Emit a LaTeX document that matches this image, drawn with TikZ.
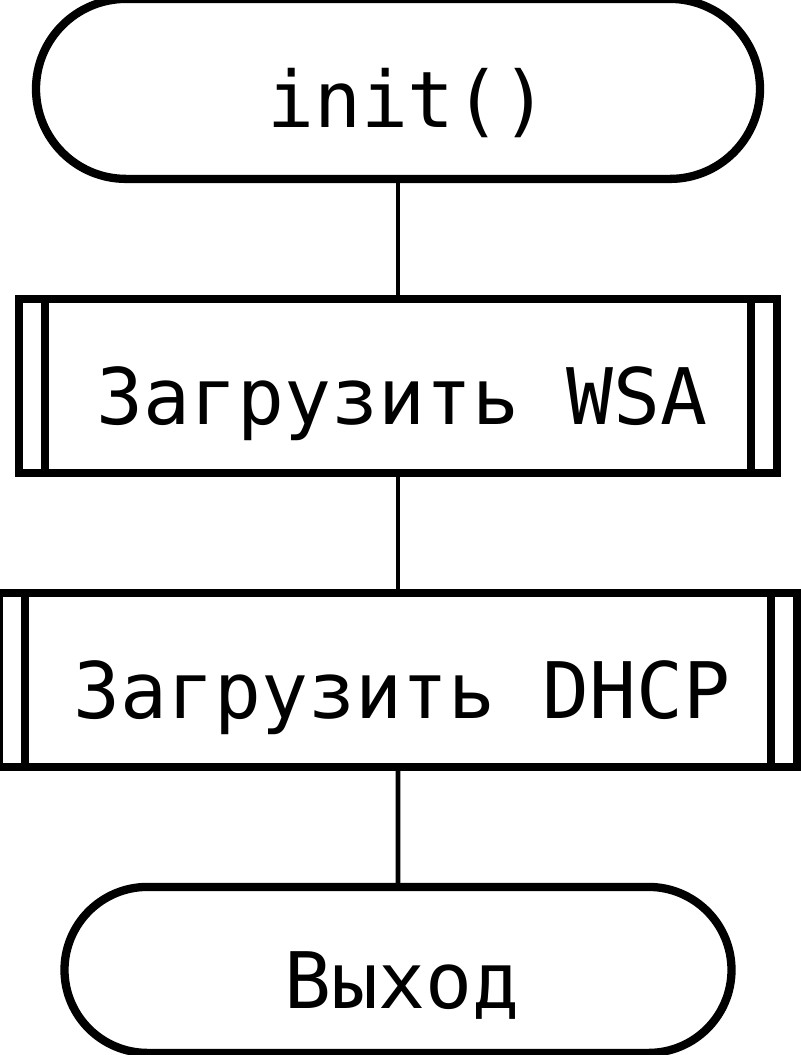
\documentclass[tikz,border=0pt]{standalone}
\usepackage{fontspec}
\newfontfamily\flowfont{DejaVu Sans Mono}
\usepackage{tikz}
\usetikzlibrary{shapes.misc, positioning}

\begin{document}
\begin{tikzpicture}[
        node distance=60pt,
        every node/.style={outer sep=0pt, inner sep=0pt, font={\flowfont\fontsize{39pt}{46pt}\selectfont}, text height=38.5pt, text depth=0pt},
        term/.style={rounded rectangle, draw, line width=4.15pt},
        subproc/.style={rectangle, draw, line width=4.15pt, path picture={
            \draw[line width=4.15pt] ([xshift=13pt]path picture bounding box.north west) -- ([xshift=13pt]path picture bounding box.south west);
            \draw[line width=4.15pt] ([xshift=-13pt]path picture bounding box.north east) -- ([xshift=-13pt]path picture bounding box.south east);
        }},
        link/.style={line width=2.3pt}
    ]
    \useasboundingbox (0,0) rectangle (400pt,-527.5pt);

    \node[term, minimum width=362pt, minimum height=90pt] (init) at (199pt,-44.45pt) {\hspace*{10pt}init()};
    \node[subproc, below=of init, minimum width=378.75pt, minimum height=87pt] (wsa) {\hspace*{4pt}Загрузить WSA};
    \node[subproc, below=of wsa, minimum width=399pt, minimum height=87pt] (dhcp) {\hspace*{4pt}Загрузить DHCP};
    \node[term, below=of dhcp, minimum width=333.5pt, minimum height=83pt] (exit) {\hspace*{4pt}Выход};

    \draw[link] (init) -- (wsa);
    \draw[link] (wsa) -- (dhcp);
    \draw[link] (dhcp) -- (exit);
    \end{tikzpicture}
\end{document}
